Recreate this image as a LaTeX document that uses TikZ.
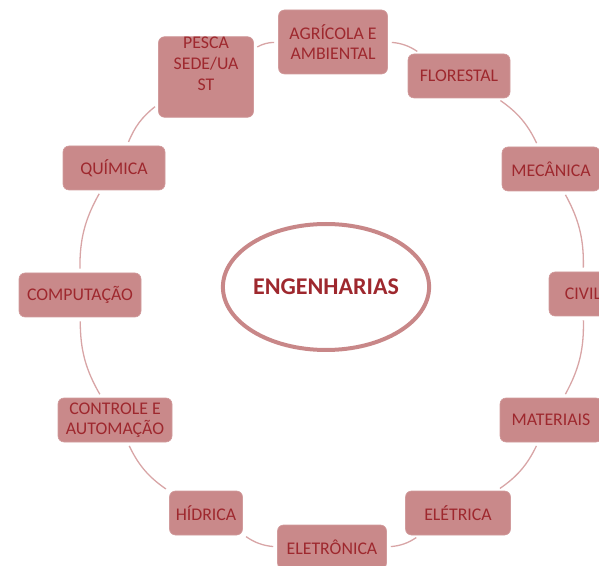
\documentclass[tikz,border=0pt]{standalone}
\usepackage{fontspec}
\setmainfont{Carlito}
\usetikzlibrary{shapes.geometric}
\definecolor{boxfill}{RGB}{201,137,138}
\definecolor{boxtext}{RGB}{158,40,46}
\definecolor{linkcol}{RGB}{216,165,166}
\definecolor{ovalcol}{RGB}{200,135,136}
\tikzset{
  eng/.style={rectangle, rounded corners=6pt, fill=boxfill, draw=boxfill!85!white, line width=0.6pt,
    text=boxtext, inner sep=0pt, minimum height=44pt, align=center,
    font=\fontsize{17.8}{19.5}\selectfont},
  link/.style={draw=linkcol, line width=1.3pt, shorten <=4pt, shorten >=4pt, bend left=15},
  hub/.style={ellipse, draw=ovalcol, line width=4pt, inner sep=0pt, minimum width=204pt, minimum height=126pt,
    text=boxtext, font=\fontsize{24}{28}\selectfont\bfseries}
}
\begin{document}
\begin{tikzpicture}[x=1pt,y=1pt]
\useasboundingbox (0,0) rectangle (599,565);
\clip (0,0) rectangle (599,565);
\node[hub] (hub) at (326,278) {ENGENHARIAS};
\node[eng, minimum width=109pt, minimum height=64pt] (agr) at (333,523) {AGRÍCOLA E\\AMBIENTAL};
\node[eng, minimum width=102pt] (flo) at (459,489) {FLORESTAL};
\node[eng, minimum width=98pt] (mec) at (551,396) {MECÂNICA};
\node[eng, minimum width=68pt] (civ) at (583,271) {CIVIL};
\node[eng, minimum width=102pt] (mat) at (551,145) {MATERIAIS};
\node[eng, minimum width=105pt] (ele) at (458,52) {ELÉTRICA};
\node[eng, minimum width=109pt] (etr) at (332,18) {ELETRÔNICA};
\node[eng, minimum width=73pt] (hid) at (206,52) {HÍDRICA};
\node[eng, minimum width=114pt] (con) at (115,145) {CONTROLE E\\AUTOMAÇÃO};
\node[eng, minimum width=122pt] (com) at (80,270) {COMPUTAÇÃO};
\node[eng, minimum width=102pt] (qui) at (114,397) {QUÍMICA};
\node[eng, minimum width=95pt, minimum height=80pt, text depth=27pt,
  font=\fontsize{17.8}{21}\selectfont] (pes) at (206,488) {PESCA\\SEDE/UA\\ST};
\draw[link] (agr) to (flo);
\draw[link] (flo) to (mec);
\draw[link] (mec) to (civ);
\draw[link] (civ) to (mat);
\draw[link] (mat) to (ele);
\draw[link] (ele) to (etr);
\draw[link] (etr) to (hid);
\draw[link] (hid) to (con);
\draw[link] (con) to (com);
\draw[link] (com) to (qui);
\draw[link] (qui) to (pes);
\draw[link] (pes) to (agr);
\end{tikzpicture}
\end{document}
